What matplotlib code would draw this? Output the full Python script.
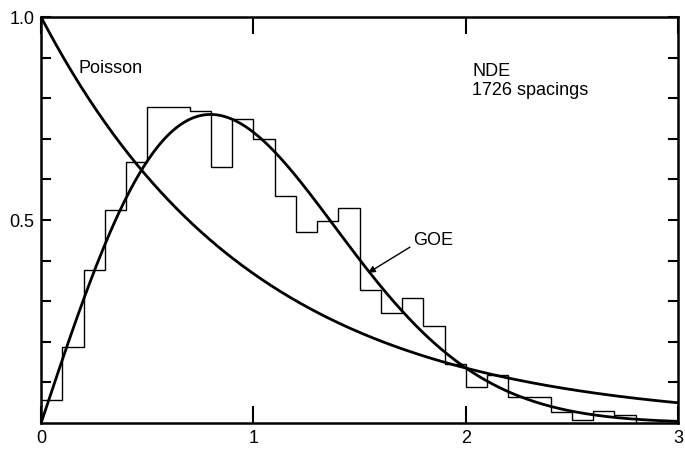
import numpy as np
import matplotlib
matplotlib.use("Agg")
import matplotlib.pyplot as plt

plt.rcParams['font.family'] = ['Liberation Sans', 'DejaVu Sans']

# nearest-neighbour spacing histogram, bin width 0.1
bin_edges = np.round(np.arange(0, 3.01, 0.1), 2)
counts = [0.057, 0.187, 0.377, 0.525, 0.643, 0.778, 0.778, 0.768, 0.63, 0.748,
          0.70, 0.559, 0.47, 0.497, 0.53, 0.328, 0.27, 0.307, 0.24, 0.145,
          0.089, 0.118, 0.064, 0.064, 0.027, 0.007, 0.03, 0.02, 0.0, 0.0]

# theoretical curves: Poisson and Wigner surmise (GOE)
s = np.linspace(0, 3, 400)
poisson = np.exp(-s)
goe = (np.pi / 2) * s * np.exp(-np.pi * s ** 2 / 4)

fig = plt.figure(figsize=(6.85, 4.5), dpi=100)
ax = fig.add_axes([0.06, 0.06, 0.93, 0.902])

ax.stairs(counts, bin_edges, color='black', lw=1.0)
ax.plot(s, poisson, color='black', lw=2.0)
ax.plot(s, goe, color='black', lw=2.0)

ax.set_xlim(0, 3)
ax.set_ylim(0, 1.0)

ax.set_xticks([0, 1, 2, 3])
ax.set_xticklabels(['0', '1', '2', '3'])
ax.set_yticks([0.5, 1.0])
ax.set_yticklabels(['0.5', '1.0'])
ax.set_yticks(np.round(np.arange(0.1, 1.0, 0.1), 1), minor=True)
ax.tick_params(axis='both', which='both', direction='in', top=True, right=True,
               width=1.5, labelsize=13, colors='black')
ax.tick_params(axis='x', which='major', length=12, pad=5)
ax.tick_params(axis='y', which='both', length=7, pad=5)
for sp in ax.spines.values():
    sp.set_linewidth(1.8)

ax.text(0.174, 0.874, 'Poisson', fontsize=13, va='center', ha='left')
ax.text(2.03, 0.865, 'NDE', fontsize=13, va='center', ha='left')
ax.text(2.03, 0.82, '1726 spacings', fontsize=13, va='center', ha='left')
ax.annotate('GOE', xy=(1.54, 0.37), xytext=(1.75, 0.45), fontsize=13,
            va='center', ha='left',
            arrowprops=dict(arrowstyle='-|>', color='black', lw=1.0,
                            mutation_scale=10, shrinkA=0, shrinkB=0,
                            relpos=(0, 0.2)))

fig.savefig('out.png', dpi=100)
